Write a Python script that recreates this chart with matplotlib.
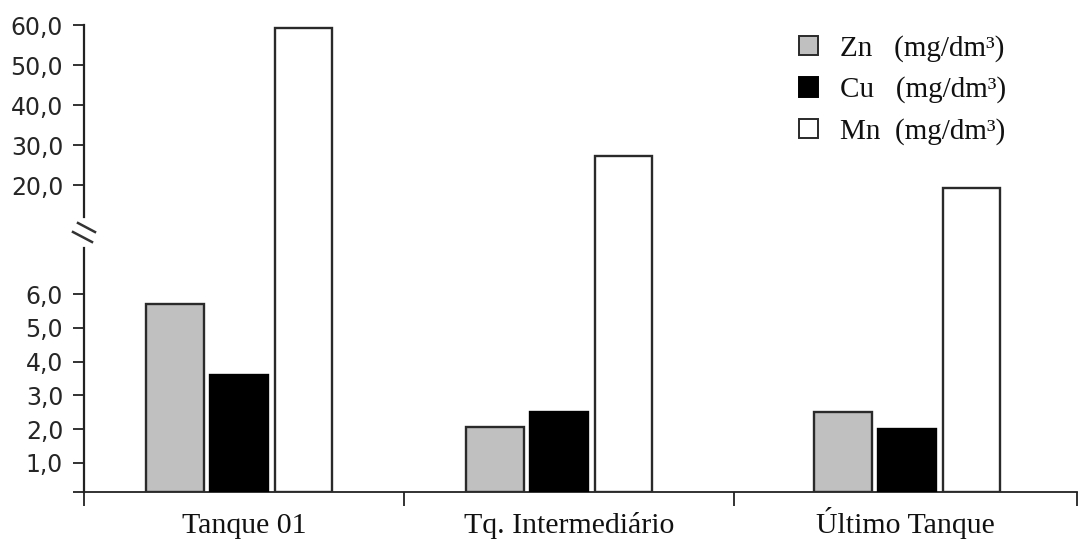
import numpy as np
import matplotlib
matplotlib.use("Agg")
import matplotlib.pyplot as plt
from matplotlib.patches import Patch
from matplotlib.lines import Line2D
from matplotlib.transforms import blended_transform_factory

# ---- data ----
categories = ["Tanque 01", "Tq. Intermediário", "Último Tanque"]
zn = [5.7, 2.05, 2.5]
cu = [3.6, 2.5, 2.0]
mn = [59.2, 27.2, 19.7]
series_labels = ["Zn   (mg/dm³)", "Cu   (mg/dm³)", "Mn  (mg/dm³)"]
lower_ticks = [1, 2, 3, 4, 5, 6]
upper_ticks = [20, 30, 40, 50, 60]

# ---- broken (piecewise-linear) value axis ----
brk_vals = np.array([0.0, 1.0, 6.0, 20.0, 60.0])
brk_pos = np.array([0.0, 29.3, 197.7, 306.7, 467.0])


def _pw(x, xs, ys):
    x = np.asarray(x, dtype=float)
    y = np.interp(x, xs, ys)
    lo = x < xs[0]
    hi = x > xs[-1]
    s0 = (ys[1] - ys[0]) / (xs[1] - xs[0])
    s1 = (ys[-1] - ys[-2]) / (xs[-1] - xs[-2])
    y = np.where(lo, ys[0] + (x - xs[0]) * s0, y)
    y = np.where(hi, ys[-1] + (x - xs[-1]) * s1, y)
    return y


def fwd(v):
    return _pw(v, brk_vals, brk_pos)


def inv(p):
    return _pw(p, brk_pos, brk_vals)


W, H = 1080, 542
fig = plt.figure(figsize=(W / 100, H / 100), dpi=100)
ax = fig.add_axes([84 / W, 1 - 492 / H, (1077 - 84) / W, (492 - 25) / H])
ax.set_yscale("function", functions=(fwd, inv))
ax.set_ylim(0, 60)
x_left, x_right = -0.47, 2.54
ax.set_xlim(x_left, x_right)

# group centres and category spans along the x axis
group_x = np.array([0.0, 0.97, 2.025])
seps = [x_left, 0.5, 1.5, x_right]
label_x = [(seps[i] + seps[i + 1]) / 2 for i in range(len(categories))]

off = 0.195
bw = 0.175
edge = "#2a2a2a"
ax.bar(group_x - off, zn, bw, color="#c0c0c0", edgecolor=edge, linewidth=1.7, zorder=3)
ax.bar(group_x, cu, bw, color="black", edgecolor="black", linewidth=1.7, zorder=3)
ax.bar(group_x + off, mn, bw, color="white", edgecolor=edge, linewidth=1.7, zorder=3)

# spines
for s in ("top", "right", "left"):
    ax.spines[s].set_visible(False)
ax.spines["bottom"].set_linewidth(1.3)
ax.spines["bottom"].set_color("#222222")

# left axis line drawn in two pieces around the break
tr = ax.get_yaxis_transform()
ax.plot([0, 0], [0, 11.95], transform=tr, color="#222222", lw=1.6,
        clip_on=False, zorder=4)
ax.plot([0, 0], [15.97, 60], transform=tr, color="#222222", lw=1.6,
        clip_on=False, zorder=4)

# break marks
for (x0, y0, x1, y1) in [(78, 223, 95, 232), (73, 232, 92, 242)]:
    fig.add_artist(Line2D([x0 / W, x1 / W], [1 - y0 / H, 1 - y1 / H],
                          transform=fig.transFigure, color="#333333", lw=1.8))

# y ticks
yt = [0] + lower_ticks + upper_ticks
ax.set_yticks(yt)
ax.set_yticklabels([""] + [f"{v:.1f}".replace(".", ",") for v in lower_ticks + upper_ticks],
                   fontfamily="DejaVu Sans", fontsize=17, color="#262626")
ax.tick_params(axis="y", direction="out", length=8, width=1.3, color="#222222", pad=7)

# x ticks: group separators; category names on a common baseline
ax.set_xticks(seps)
ax.set_xticklabels([])
ax.tick_params(axis="x", direction="out", length=10, width=1.3, color="#222222")
btr = blended_transform_factory(ax.transData, ax.transAxes)
for lx, name in zip(label_x, categories):
    ax.text(lx, -0.088, name, transform=btr, ha="center", va="baseline",
            fontfamily="Liberation Serif", fontsize=21.5, color="#111111")

# legend
handles = [Patch(facecolor="#c0c0c0", edgecolor=edge, linewidth=1.4),
           Patch(facecolor="black", edgecolor="black", linewidth=1.4),
           Patch(facecolor="white", edgecolor=edge, linewidth=1.4)]
leg = ax.legend(handles, series_labels, loc="upper left",
                bbox_to_anchor=(799 / W, 1 - 35 / H), bbox_transform=fig.transFigure,
                frameon=False, prop={"family": "Liberation Serif", "size": 21},
                handlelength=0.66, handleheight=0.66, handletextpad=0.75,
                labelspacing=0.5, borderpad=0, borderaxespad=0)
for t in leg.get_texts():
    t.set_color("#111111")

fig.savefig("out.png", dpi=100, facecolor="white")
